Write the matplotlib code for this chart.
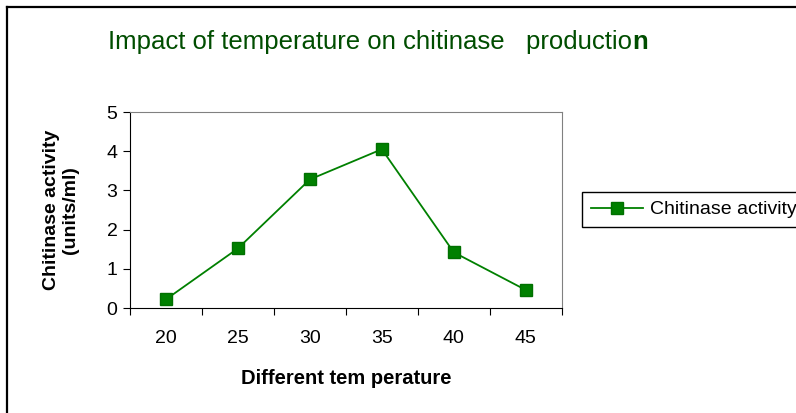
import matplotlib.pyplot as plt
from matplotlib.lines import Line2D

# data
temperatures = ["20", "25", "30", "35", "40", "45"]
activity = [0.22, 1.52, 3.28, 4.05, 1.42, 0.46]

plt.rcParams['font.family'] = ['Liberation Sans', 'DejaVu Sans']

fig = plt.figure(figsize=(7.96, 4.13), dpi=100)
ax = fig.add_axes([0.1633, 0.2542, 0.5424, 0.4746])

x = list(range(len(temperatures)))
ax.plot(x, activity, color='#008000', lw=1.3, marker='s', markersize=8,
        markeredgecolor='#007000', markerfacecolor='#008000',
        label='Chitinase activity')

ax.set_xlim(-0.5, len(temperatures) - 0.5)
ax.set_ylim(0, 5)
ax.set_yticks(range(6))
ax.tick_params(axis='y', labelsize=14, length=5, width=0.8, pad=4)

# category ticks at boundaries, labels in the middle
ax.set_xticks([i - 0.5 for i in range(len(temperatures) + 1)])
ax.set_xticklabels([])
ax.set_xticks(x, minor=True)
ax.set_xticklabels(temperatures, minor=True, fontsize=14)
ax.tick_params(axis='x', which='major', length=5, width=0.8)
ax.tick_params(axis='x', which='minor', length=0, pad=16)

for side in ['top', 'right']:
    ax.spines[side].set_color('#808080')
for side in ['left', 'bottom']:
    ax.spines[side].set_color('black')
    ax.spines[side].set_linewidth(0.8)

ax.set_xlabel("Different tem perature", fontsize=14.5, fontweight='bold', labelpad=16)
ax.set_ylabel("Chitinase activity\n(units/ml)", fontsize=14, fontweight='bold',
              labelpad=20, linespacing=1.15)

# title (last letter bold, as in the original)
t1 = fig.text(108 / 796, 1 - 49 / 413, "Impact of temperature on chitinase   productio",
              fontsize=18.5, color='#004d00', va='baseline', ha='left')
fig.canvas.draw()
bb = t1.get_window_extent()
fig.text(bb.x1 / 796, 1 - 49 / 413, "n", fontsize=18.5, color='#004d00',
         fontweight='bold', va='baseline', ha='left')

# legend, partly outside on the right like the source
fig.legend(loc='upper left', bbox_to_anchor=(582 / 796, 1 - 192 / 413),
           fontsize=14, frameon=True, fancybox=False, edgecolor='black',
           framealpha=1, borderpad=0.45, handlelength=2.7, handletextpad=0.35,
           borderaxespad=0)

# outer chart frame
fig.add_artist(Line2D([7 / 796, 7 / 796], [0, 1 - 7 / 413], color='black', lw=1.6))
fig.add_artist(Line2D([7 / 796, 1], [1 - 7 / 413, 1 - 7 / 413], color='black', lw=1.6))

fig.savefig('out.png', dpi=100)
